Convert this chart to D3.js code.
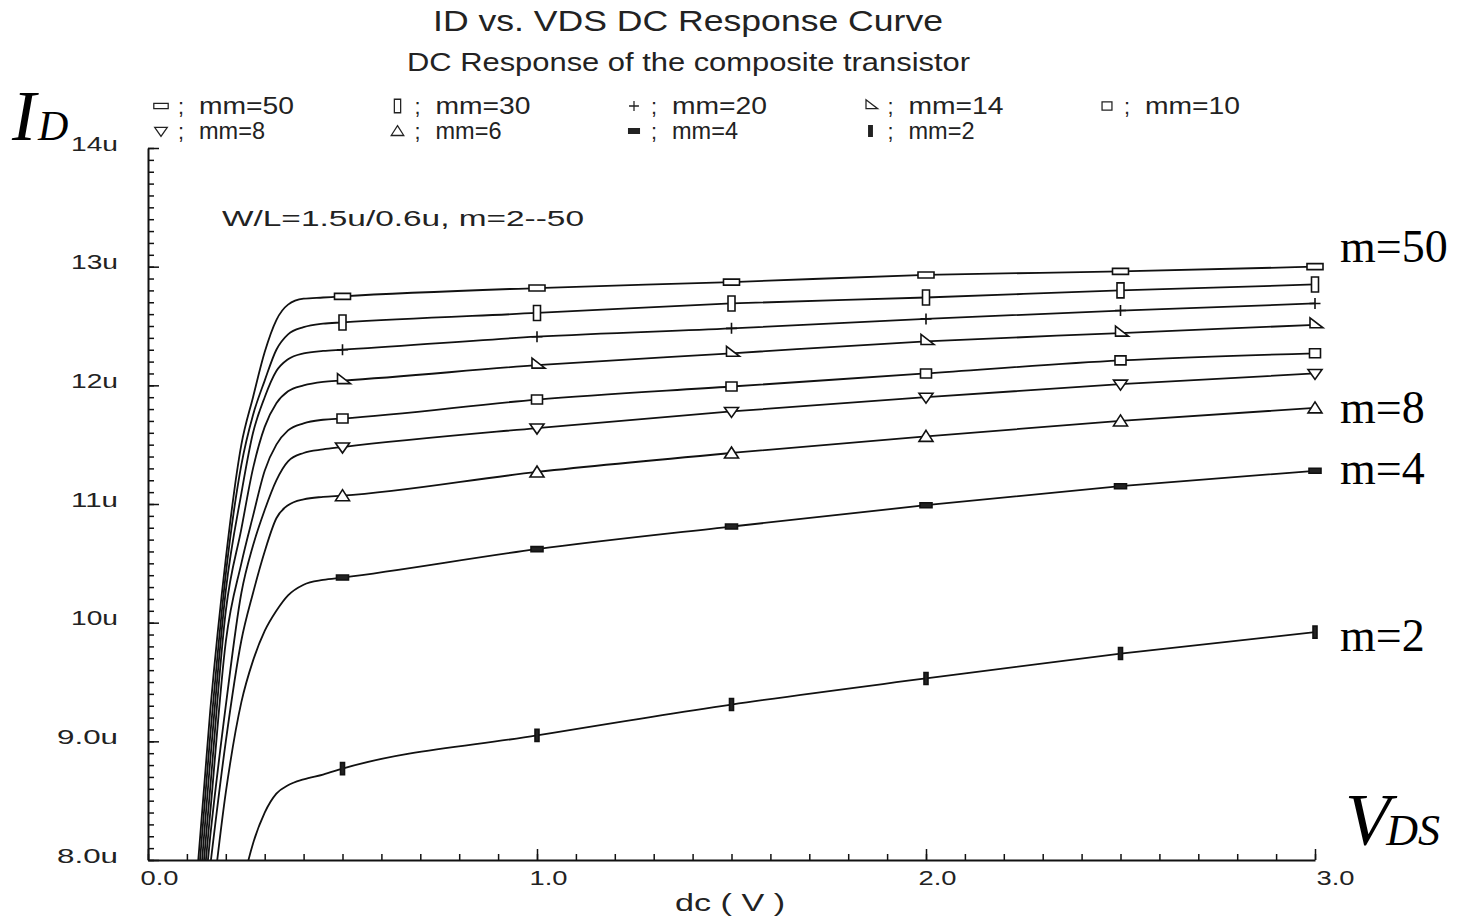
<!DOCTYPE html>
<html>
<head>
<meta charset="utf-8">
<script src="https://d3js.org/d3.v7.min.js"></script>
<style>
  body { margin: 0; background: #fff; }
  svg { display: block; }
  .sf { font-family: "Liberation Sans", "DejaVu Sans", sans-serif; fill: #222; }
  .big { font-family: "Liberation Serif", "Times New Roman", serif; fill: #000; }
</style>
</head>
<body>
<svg width="1464" height="918"></svg>
<script>
// drain voltage sweep (V) shared by every curve
var voltages = [0.12, 0.16, 0.20, 0.24, 0.27, 0.30, 0.33, 0.36, 0.40, 0.45, 0.5, 1.0, 1.5, 2.0, 2.5, 3.0];
var markerVolts = [0.5, 1.0, 1.5, 2.0, 2.5, 3.0];

// drain current (uA) for each multiplier
var id_mm50 = [7.62, 9.26, 10.54, 11.50, 11.90, 12.28, 12.55, 12.68, 12.73, 12.74, 12.75, 12.82, 12.87, 12.93, 12.96, 13.00];
var id_mm30 = [7.45, 9.05, 10.41, 11.33, 11.75, 12.04, 12.30, 12.43, 12.49, 12.52, 12.53, 12.61, 12.69, 12.74, 12.80, 12.85];
var id_mm20 = [7.24, 8.84, 10.27, 11.09, 11.60, 11.90, 12.12, 12.22, 12.27, 12.29, 12.30, 12.41, 12.48, 12.56, 12.63, 12.69];
var id_mm14 = [7.09, 8.61, 10.10, 10.79, 11.30, 11.65, 11.85, 11.95, 12.00, 12.03, 12.04, 12.17, 12.27, 12.37, 12.44, 12.51];
var id_mm10 = [6.96, 8.40, 9.84, 10.50, 10.90, 11.28, 11.50, 11.62, 11.68, 11.71, 11.72, 11.88, 11.99, 12.10, 12.21, 12.27];
var id_mm8  = [6.85, 8.20, 9.30, 10.25, 10.65, 10.95, 11.20, 11.36, 11.43, 11.46, 11.48, 11.64, 11.78, 11.90, 12.01, 12.10];
var id_mm6  = [6.80, 7.95, 9.00, 9.85, 10.25, 10.60, 10.88, 10.99, 11.04, 11.06, 11.07, 11.27, 11.43, 11.57, 11.70, 11.81];
var id_mm4  = [6.40, 7.50, 8.57, 9.33, 9.68, 9.93, 10.10, 10.23, 10.32, 10.36, 10.38, 10.62, 10.81, 10.99, 11.15, 11.28];
var id_mm2  = [5.60, 6.40, 7.10, 7.75, 8.14, 8.40, 8.56, 8.63, 8.68, 8.72, 8.77, 9.05, 9.31, 9.53, 9.74, 9.92];

var seriesNames = ["mm=50", "mm=30", "mm=20", "mm=14", "mm=10", "mm=8", "mm=6", "mm=4", "mm=2"];
var seriesValues = [id_mm50, id_mm30, id_mm20, id_mm14, id_mm10, id_mm8, id_mm6, id_mm4, id_mm2];

var yTickValues = [8, 9, 10, 11, 12, 13, 14];
var yTickLabels = ["8.0u", "9.0u", "10u", "11u", "12u", "13u", "14u"];
var xTickValues = [0, 1, 2, 3];
var xTickLabels = ["0.0", "1.0", "2.0", "3.0"];

// marker glyph per series (path in local coords)
var markerPaths = [
  "M-8,-3H8V3H-8Z",           // mm=50 wide bar
  "M-3.5,-7.5H3.5V7.5H-3.5Z", // mm=30 tall box
  "M-5.5,0H5.5M0,-5.5V5.5",   // mm=20 plus
  "M-5,-7V3H8Z",              // mm=14 right triangle
  "M-5.5,-4.5H5.5V4.5H-5.5Z", // mm=10 square
  "M-7,-4H7L0,6Z",            // mm=8 down triangle
  "M0,-6L7,5H-7Z",            // mm=6 up triangle
  "M-6,-2.5H6V2.5H-6Z",       // mm=4 small bar
  "M-2,-6H2V6H-2Z"            // mm=2 vertical bar
];
var markerFill = ["#fff", "#fff", "none", "#fff", "#fff", "#fff", "#fff", "#222", "#222"];

var svg = d3.select("svg");
var x = d3.scaleLinear().domain([0, 3]).range([148, 1315]);
var y = d3.scaleLinear().domain([8, 14]).range([860, 148]);

svg.append("defs").append("clipPath").attr("id", "plot")
  .append("rect").attr("x", 148).attr("y", 140).attr("width", 1180).attr("height", 720);

function stretched(g, txt, x0, y0, size, len) {
  return g.append("text").attr("class", "sf").attr("x", x0).attr("y", y0)
    .attr("font-size", size).attr("textLength", len).attr("lengthAdjust", "spacingAndGlyphs")
    .text(txt);
}

// titles
stretched(svg, "ID vs. VDS DC Response Curve", 433, 31, 30, 510);
stretched(svg, "DC Response of the composite transistor", 407, 71, 25, 563);

// legend
var legend = svg.append("g");
seriesNames.forEach(function(name, i) {
  var col = i < 5 ? i : i - 5;
  var row = i < 5 ? 0 : 1;
  var lx = 161 + col * 236.5;
  var ly = 106 + row * 25;
  legend.append("path").attr("d", markerPaths[i])
    .attr("transform", "translate(" + lx + "," + ly + ") scale(0.9)")
    .attr("fill", markerFill[i]).attr("stroke", "#222").attr("stroke-width", 1.4);
  stretched(legend, ";", lx + 17, ly + 8, 22, 6);
  stretched(legend, name, lx + 38, ly + 8, 23, name.length === 5 ? 95 : 66);
});

// annotation
stretched(svg, "W/L=1.5u/0.6u, m=2--50", 222, 226, 22, 362);

// y axis: minor then major
svg.append("g").attr("transform", "translate(148,0)")
  .call(d3.axisLeft(y).tickValues(d3.range(80, 141).map(function(d) { return d / 10; }))
    .tickSizeInner(-6).tickSizeOuter(0).tickFormat(""))
  .call(function(g) { g.select(".domain").remove(); })
  .selectAll("line").attr("stroke", "#111").attr("stroke-width", 1.5);

var yAxis = svg.append("g").attr("transform", "translate(148,0)")
  .call(d3.axisLeft(y).tickValues(yTickValues).tickSizeInner(-11).tickSizeOuter(0)
    .tickPadding(30).tickFormat(function(d, i) { return yTickLabels[i]; }));
yAxis.select(".domain").attr("stroke", "#111").attr("stroke-width", 2);
yAxis.selectAll("line").attr("stroke", "#111").attr("stroke-width", 1.5);
yAxis.selectAll("text").attr("class", "sf").attr("font-size", 21).attr("dy", "0.1em")
  .attr("lengthAdjust", "spacingAndGlyphs")
  .attr("textLength", function(d, i) { return yTickLabels[i].length === 3 ? 47 : 61; })
  .style("font-family", null);

// x axis: minor then major
svg.append("g").attr("transform", "translate(0,860)")
  .call(d3.axisBottom(x).tickValues(d3.range(0, 31).map(function(d) { return d / 10; }))
    .tickSizeInner(-6).tickSizeOuter(0).tickFormat(""))
  .call(function(g) { g.select(".domain").remove(); })
  .selectAll("line").attr("stroke", "#111").attr("stroke-width", 1.5);

var xAxis = svg.append("g").attr("transform", "translate(0,860)")
  .call(d3.axisBottom(x).tickValues(xTickValues).tickSizeInner(-11).tickSizeOuter(0)
    .tickPadding(10).tickFormat(function(d, i) { return xTickLabels[i]; }));
xAxis.select(".domain").attr("stroke", "#111").attr("stroke-width", 2);
xAxis.selectAll("line").attr("stroke", "#111").attr("stroke-width", 1.5);
xAxis.selectAll("text").attr("class", "sf").attr("font-size", 21)
  .attr("text-anchor", "start")
  .attr("dx", function(d) { return d === 3 ? 1 : -8; })
  .attr("lengthAdjust", "spacingAndGlyphs").attr("textLength", 38)
  .style("font-family", null);

stretched(svg, "dc ( V )", 675, 911, 23, 110);

// curves
var line = d3.line()
  .x(function(d) { return x(d[0]); })
  .y(function(d) { return y(d[1]); })
  .curve(d3.curveMonotoneX);

var plot = svg.append("g").attr("clip-path", "url(#plot)");
seriesValues.forEach(function(vals, i) {
  var pts = voltages.map(function(v, j) { return [v, vals[j]]; });
  plot.append("path").datum(pts).attr("d", line)
    .attr("fill", "none").attr("stroke", "#111").attr("stroke-width", 1.8);
});

seriesValues.forEach(function(vals, i) {
  var pts = markerVolts.map(function(v) { return [v, vals[voltages.indexOf(v)]]; });
  plot.selectAll(null).data(pts).enter().append("path")
    .attr("d", markerPaths[i])
    .attr("transform", function(d) { return "translate(" + x(d[0]) + "," + y(d[1]) + ")"; })
    .attr("fill", markerFill[i]).attr("stroke", "#111").attr("stroke-width", 1.6);
});

// big hand-added labels
var idLab = svg.append("text").attr("class", "big").attr("x", 12).attr("y", 140);
idLab.append("tspan").attr("font-size", 72).attr("font-style", "italic").text("I");
idLab.append("tspan").attr("font-size", 42).attr("font-style", "italic").attr("dx", 2).text("D");

var vdsLab = svg.append("text").attr("class", "big").attr("x", 1345).attr("y", 845);
vdsLab.append("tspan").attr("font-size", 74).attr("font-style", "italic").text("V");
vdsLab.append("tspan").attr("font-size", 44).attr("font-style", "italic").attr("dx", -4).text("DS");

var mLabels = ["m=50", "m=8", "m=4", "m=2"];
var mLabelY = [262, 423, 484, 651];
mLabels.forEach(function(t, i) {
  svg.append("text").attr("class", "big").attr("x", 1340).attr("y", mLabelY[i])
    .attr("font-size", 46).text(t);
});
</script>
</body>
</html>
